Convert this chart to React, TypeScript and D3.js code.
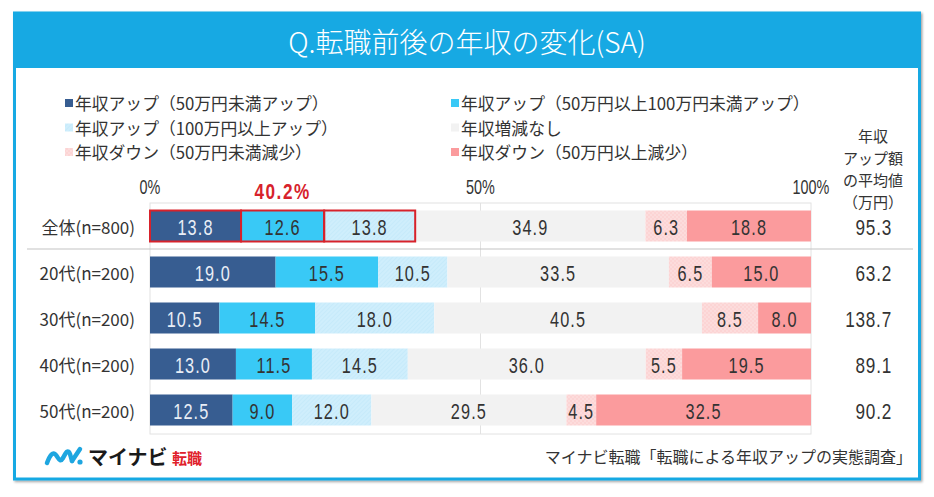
import React from 'react';
import * as d3 from 'd3';

const categories = ['全体(n=800)', '20代(n=200)', '30代(n=200)', '40代(n=200)', '50代(n=200)'];
const seriesNames = [
  '年収アップ（50万円未満アップ）',
  '年収アップ（50万円以上100万円未満アップ）',
  '年収アップ（100万円以上アップ）',
  '年収増減なし',
  '年収ダウン（50万円未満減少）',
  '年収ダウン（50万円以上減少）',
];
const upUnder50 = [13.8, 19.0, 10.5, 13.0, 12.5];
const up50to100 = [12.6, 15.5, 14.5, 11.5, 9.0];
const upOver100 = [13.8, 10.5, 18.0, 14.5, 12.0];
const noChange = [34.9, 33.5, 40.5, 36.0, 29.5];
const downUnder50 = [6.3, 6.5, 8.5, 5.5, 4.5];
const downOver50 = [18.8, 15.0, 8.0, 19.5, 32.5];
const avgUp = [95.3, 63.2, 138.7, 89.1, 90.2];
const axisTicks = [0, 50, 100];
const highlightLabel = '40.2%';
const title = 'Q.転職前後の年収の変化(SA)';
const rightHeader = ['年収', 'アップ額', 'の平均値', '（万円）'];
const source = 'マイナビ転職「転職による年収アップの実態調査」';

const series = [upUnder50, up50to100, upOver100, noChange, downUnder50, downOver50];
const fills = ['#375d91', '#39c9f6', 'url(#hatchBlue)', '#f2f2f2', 'url(#dotPink)', '#fb9b9d'];
const textColors = ['#e9eef6', '#333', '#333', '#333', '#333', '#333'];

const NUM_FONT = "'Liberation Sans', 'DejaVu Sans', sans-serif";
const JP_FONT = "'Noto Sans CJK JP', 'Noto Sans', sans-serif";

type NTProps = {
  x: number;
  y: number;
  anchor?: 'start' | 'middle' | 'end';
  size: number;
  sx?: number;
  fill?: string;
  weight?: number;
  ls?: number;
  children: React.ReactNode;
};

function NarrowText({ x, y, anchor = 'middle', size, sx = 0.78, fill = '#333', weight = 400, ls = 0, children }: NTProps) {
  return (
    <text
      transform={`translate(${x},${y}) scale(${sx},1)`}
      textAnchor={anchor}
      dominantBaseline="central"
      fontSize={size}
      fontWeight={weight}
      letterSpacing={ls}
      fill={fill}
      fontFamily={NUM_FONT}
    >
      {children}
    </text>
  );
}

export default function App() {
  const W = 934, H = 497;
  const x = d3.scaleLinear().domain([0, 100]).range([150, 811]);
  const y = d3.scalePoint<string>().domain(categories).range([203, 433]).padding(0.5);
  const barH = 31;

  const rows = categories.map((c, i) => {
    const vals = series.map((s) => s[i]);
    const total = d3.sum(vals);
    let cum = 0;
    const segs = vals.map((v, k) => {
      const x0 = x((cum / total) * 100);
      cum += v;
      const x1 = x((cum / total) * 100);
      return { v, k, x0, x1 };
    });
    return { c, i, segs, yc: y(c) as number };
  });

  const legendCols = [
    [0, 2, 4],
    [1, 3, 5],
  ];
  const legendX = [65, 451];
  const legendY = [103, 127.5, 152];

  return (
    <div style={{ position: 'absolute', left: 0, top: 0 }}>
      <svg width={W} height={H} style={{ display: 'block', background: '#fff' }}>
        <defs>
          <pattern id="hatchBlue" width="3" height="3" patternUnits="userSpaceOnUse" patternTransform="rotate(45)">
            <rect width="3" height="3" fill="#cfeefc" />
            <line x1="0" y1="0" x2="0" y2="3" stroke="#bde6f8" strokeWidth="1" />
          </pattern>
          <pattern id="dotPink" width="4" height="4" patternUnits="userSpaceOnUse">
            <rect width="4" height="4" fill="#fcd4d4" />
            <circle cx="1" cy="1" r="0.8" fill="#fde8e8" />
            <circle cx="3" cy="3" r="0.8" fill="#fde8e8" />
          </pattern>
          <filter id="shadow" x="-5%" y="-5%" width="110%" height="110%">
            <feDropShadow dx="1.5" dy="1.5" stdDeviation="1.2" floodColor="#000" floodOpacity="0.35" />
          </filter>
        </defs>

        {/* frame */}
        <rect x={14.5} y={13} width={905} height={466} fill="#fff" stroke="#17a9e3" strokeWidth={3} filter="url(#shadow)" />
        <rect x={13} y={12} width={908} height={56} fill="#17a9e3" />
        <text x={467} y={41} textAnchor="middle" dominantBaseline="central" fill="#fff" fontSize={28} fontWeight={300} fontFamily={JP_FONT}>
          {title}
        </text>

        {/* legend */}
        {legendCols.map((col, ci) =>
          col.map((si, ri) => (
            <g key={`${ci}-${ri}`}>
              <rect x={legendX[ci]} y={legendY[ri] - 4} width={8} height={8} fill={fills[si]} />
              <text x={legendX[ci] + 10} y={legendY[ri]} dominantBaseline="central" fontSize={16.8} fill="#333" fontFamily={JP_FONT}>
                {seriesNames[si]}
              </text>
            </g>
          ))
        )}

        {/* right header */}
        {rightHeader.map((t, i) => (
          <text key={t} x={873} y={135 + i * 22} textAnchor="middle" dominantBaseline="central" fontSize={15} fill="#333" fontFamily={JP_FONT}>
            {t}
          </text>
        ))}

        {/* axis labels */}
        {axisTicks.map((t) => (
          <NarrowText key={t} x={x(t)} y={187} size={20} sx={0.72}>
            {`${t}%`}
          </NarrowText>
        ))}

        {/* plot frame + grid */}
        <rect x={x(0)} y={203} width={x(100) - x(0)} height={231} fill="none" stroke="#e2e2e2" strokeWidth={1} />
        <line x1={x(50)} x2={x(50)} y1={203} y2={434} stroke="#e2e2e2" strokeWidth={1} />
        <line x1={27} x2={913} y1={249} y2={249} stroke="#c4c4c4" strokeWidth={1.2} />

        {/* bars */}
        {rows.map((r) => (
          <g key={r.c}>
            <text x={135} y={r.yc} textAnchor="end" dominantBaseline="central" fontSize={17} fill="#333" fontFamily={JP_FONT}>
              {r.c}
            </text>
            {r.segs.map((s) => (
              <rect key={s.k} x={s.x0} y={r.yc - barH / 2} width={s.x1 - s.x0} height={barH} fill={fills[s.k]} />
            ))}
            {r.segs.map((s) => (
              <NarrowText key={`t${s.k}`} x={(s.x0 + s.x1) / 2} y={r.yc + 1} size={22} sx={0.74} ls={1.5} fill={textColors[s.k]}>
                {s.v.toFixed(1)}
              </NarrowText>
            ))}
            <NarrowText x={892} y={r.yc + 1} anchor="end" size={22} sx={0.78} ls={1} fill="#333">
              {avgUp[r.i].toFixed(1)}
            </NarrowText>
          </g>
        ))}

        {/* highlight of total up share */}
        {rows[0].segs.slice(0, 3).map((s) => (
          <rect key={`h${s.k}`} x={s.x0} y={rows[0].yc - barH / 2} width={s.x1 - s.x0} height={barH} fill="none" stroke="#d7222b" strokeWidth={2} />
        ))}
        <NarrowText
          x={(rows[0].segs[0].x0 + rows[0].segs[2].x1) / 2}
          y={191}
          size={22}
          sx={0.78}
          ls={2}
          weight={700}
          fill="#d7222b"
        >
          {highlightLabel}
        </NarrowText>

        {/* logo */}
        <g fill="none" stroke="#1ea6e0" strokeWidth={4.5} strokeLinecap="round" strokeLinejoin="round">
          <path d="M47,463 C50,455 53,451 56,455 C59,459 60,463 63,458 C66,452 68,449 70,454 L72,461" />
          <path d="M72,461 L80,449" />
        </g>
        <circle cx={80} cy={462} r={2.6} fill="#1ea6e0" />
        <text x={88} y={456} dominantBaseline="central" fontSize={20} fontWeight={700} fill="#1a1a1a" fontFamily={JP_FONT}>
          マイナビ
        </text>
        <text x={172} y={457} dominantBaseline="central" fontSize={15} fontWeight={700} fill="#e0212b" fontFamily={JP_FONT}>
          転職
        </text>

        <text x={912} y={456} textAnchor="end" dominantBaseline="central" fontSize={16} fill="#333" fontFamily={JP_FONT}>
          {source}
        </text>
      </svg>
    </div>
  );
}
